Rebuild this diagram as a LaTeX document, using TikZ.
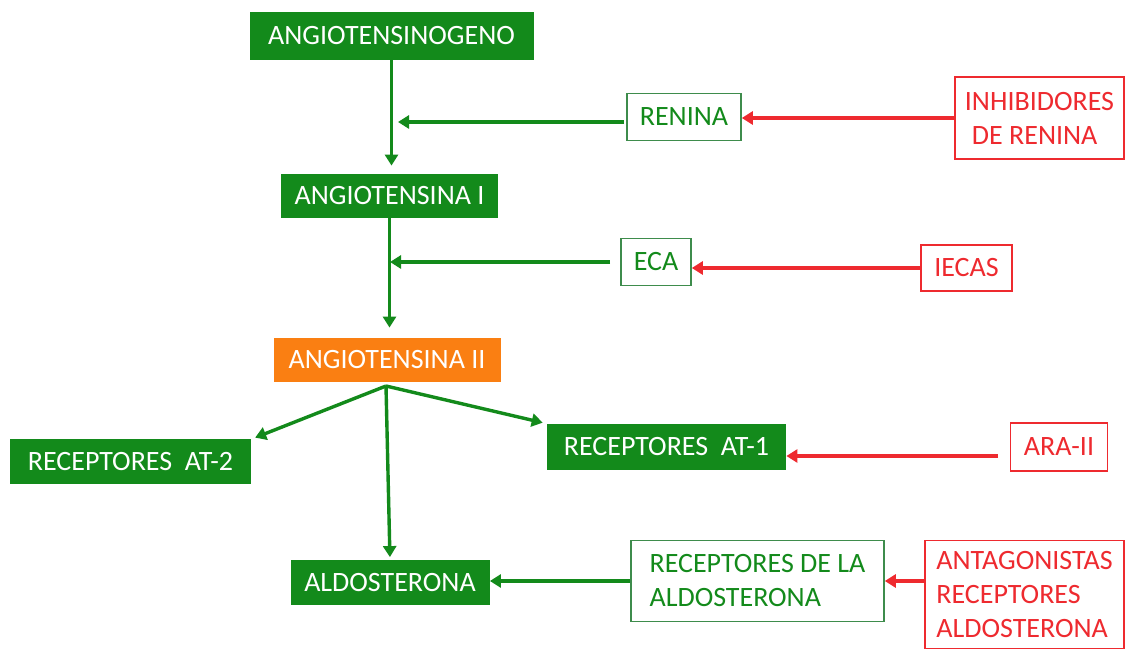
\documentclass[tikz,border=0pt]{standalone}
\usepackage{fontspec}
\setmainfont{Carlito}
\usetikzlibrary{arrows.meta}
\definecolor{raa-green}{HTML}{138A1B}
\definecolor{raa-line}{HTML}{3E8C4C}
\definecolor{raa-orange}{HTML}{FA7F12}
\definecolor{raa-red}{HTML}{EE2A2F}

\begin{document}
\begin{tikzpicture}[
            x=0.5pt, y=-0.5pt,
            every node/.style={font=\fontsize{14}{17}\selectfont, inner sep=0pt},
            fillbox/.style={rectangle, fill=raa-green, text=white, align=center},
            hormbox/.style={rectangle, fill=raa-orange, text=white, align=center},
            enzbox/.style={rectangle, draw=raa-line, line width=0.8pt, fill=white, text=raa-green, align=center},
            drugbox/.style={rectangle, draw=raa-red, line width=0.8pt, fill=white, text=raa-red, align=left},
            arrow/.style={-{Triangle[length=5.5pt, width=6.5pt]}, line width=1.7pt, draw=raa-green},
            redarrow/.style={-{Triangle[length=5.5pt, width=6.5pt]}, line width=1.7pt, draw=raa-red}
        ]
        \useasboundingbox (0,0) rectangle (1125,651);

        % --- cascade ---
        \node[fillbox, minimum width=142pt, minimum height=24pt] (aogen) at (391.5,36) {ANGIOTENSINOGENO};
        \node[fillbox, minimum width=108.5pt, minimum height=22pt] (angI) at (389.5,196) {ANGIOTENSINA I};
        \node[hormbox, minimum width=113.5pt, minimum height=22pt] (angII) at (387,360) {ANGIOTENSINA II};
        \node[fillbox, minimum width=120.5pt, minimum height=22.5pt] (at2) at (130.5,462) {RECEPTORES~~AT-2};
        \node[fillbox, minimum width=119.5pt, minimum height=23pt] (at1) at (666.5,447) {RECEPTORES~~AT-1};
        \node[fillbox, minimum width=99.5pt, minimum height=22.5pt] (aldo) at (390,583) {ALDOSTERONA};

        % --- enzymes / receptors ---
        \node[enzbox, minimum width=57pt, minimum height=23.5pt] (renina) at (684,117) {RENINA};
        \node[enzbox, minimum width=35pt, minimum height=23.5pt] (eca) at (656,262) {ECA};
        \node[enzbox, minimum width=126.5pt, minimum height=40.5pt, align=left] (recaldo) at (757.5,581) {RECEPTORES DE LA\\ALDOSTERONA};

        % --- drugs ---
        \node[drugbox, minimum width=84.5pt, minimum height=41pt] (inhib) at (1039.5,118) {INHIBIDORES\\\hspace*{0.25em}DE RENINA};
        \node[drugbox, minimum width=45.5pt, minimum height=23pt, align=center] (iecas) at (966.5,268) {IECAS};
        \node[drugbox, minimum width=48.5pt, minimum height=24pt, align=center] (arall) at (1059,447) {ARA-II};
        \node[drugbox, minimum width=99.5pt, minimum height=54pt] (antag) at (1024.5,594.5) {ANTAGONISTAS\\RECEPTORES\\ALDOSTERONA};

        \coordinate (reninatip) at (398,122);
        \coordinate (ecatip) at (390,262);
        \coordinate (hub) at (386,386);
        \coordinate (arastart) at (998,456);

        % --- green arrows ---
        \draw[arrow, shorten >=4pt] (aogen.south) -- (aogen.south |- angI.north);
        \draw[arrow, shorten <=1pt] (renina.west |- reninatip) -- (reninatip);
        \draw[arrow, shorten >=5pt] (angI.south) -- (angI.south |- angII.north);
        \draw[arrow, shorten <=5pt] (eca.west) -- (ecatip);
        \draw[arrow, shorten >=2pt] (hub) -- (at2.north east);
        \draw[arrow, shorten >=2pt] (hub) -- (at1.north west);
        \draw[arrow, shorten >=1.5pt] (hub) -- (aldo.north);
        \draw[arrow] (recaldo.west) -- (aldo.east |- recaldo.west);

        % --- red arrows ---
        \draw[redarrow] (inhib.west) -- (renina.east |- inhib.west);
        \draw[redarrow] (iecas.west) -- (eca.east |- iecas.west);
        \draw[redarrow] (arastart) -- (at1.east |- arastart);
        \draw[redarrow] (antag.west |- recaldo.east) -- (recaldo.east);

        \end{tikzpicture}
\end{document}
